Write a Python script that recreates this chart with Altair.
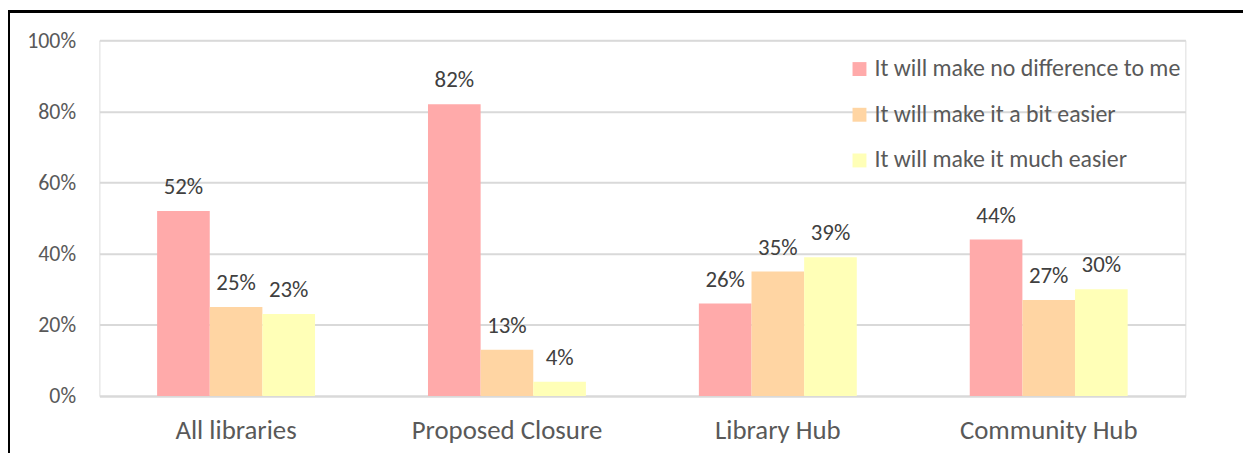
import altair as alt
import pandas as pd

categories = ["All libraries", "Proposed Closure", "Library Hub", "Community Hub"]
series = ["It will make no difference to me", "It will make it a bit easier", "It will make it much easier"]
no_difference = [52, 82, 26, 44]
bit_easier = [25, 13, 35, 27]
much_easier = [23, 4, 39, 30]
colors = ["#FFAAAA", "#FFD5A3", "#FFFFB7"]

rows = []
for i, c in enumerate(categories):
    for s, vals in zip(series, [no_difference, bit_easier, much_easier]):
        rows.append({"category": c, "series": s, "value": vals[i] / 100.0})
df = pd.DataFrame(rows)

FONT = "Carlito, 'Open Sans', sans-serif"

base = alt.Chart(df).encode(
    x=alt.X("category:N", sort=categories,
            scale=alt.Scale(paddingInner=0.417, paddingOuter=0.213),
            axis=alt.Axis(title=None, labelAngle=0, labelFontSize=27, labelColor="#595959",
                          labelFont=FONT, ticks=False, domainColor="#D9D9D9", domainWidth=2,
                          labelPadding=22, labelLimit=0, grid=False)),
    xOffset=alt.XOffset("series:N", sort=series, scale=alt.Scale(paddingInner=0, paddingOuter=0)),
)

bars = base.mark_bar().encode(
    y=alt.Y("value:Q", scale=alt.Scale(domain=[0, 1]),
            axis=alt.Axis(title=None, format=".0%", values=[0, 0.2, 0.4, 0.6, 0.8, 1.0],
                          labelFontSize=22, labelColor="#595959", labelFont=FONT,
                          ticks=False, domain=False, gridColor="#D9D9D9", gridWidth=2,
                          labelPadding=24)),
    color=alt.Color("series:N", sort=series,
                    scale=alt.Scale(domain=series, range=colors),
                    legend=alt.Legend(title=None, orient="none", legendX=753, legendY=17,
                                      symbolType="square", symbolSize=196, symbolStrokeWidth=0,
                                      labelFontSize=24, labelColor="#595959", labelFont=FONT,
                                      labelLimit=0, rowPadding=22, symbolOffset=0, labelOffset=3)),
)

labels = base.mark_text(fontSize=23, color="#404040", font=FONT, baseline="alphabetic", dy=-17).encode(
    y=alt.Y("value:Q"),
    text=alt.Text("value:Q", format=".0%"),
)

border = alt.Chart(df).mark_rect(filled=False, stroke="black", strokeWidth=2).encode(
    x=alt.value(-91), x2=alt.value(1300), y=alt.value(-29), y2=alt.value(600)
)

chart = alt.layer(bars, labels, border).properties(
    width=1093, height=358,
    padding={"left": 92, "top": 31, "right": 58, "bottom": 56},
    autosize=alt.AutoSizeParams(type="none"),
).configure_view(stroke=None).configure(background="white")

chart.save("out.html", embed_options={"renderer": "svg", "actions": False})
